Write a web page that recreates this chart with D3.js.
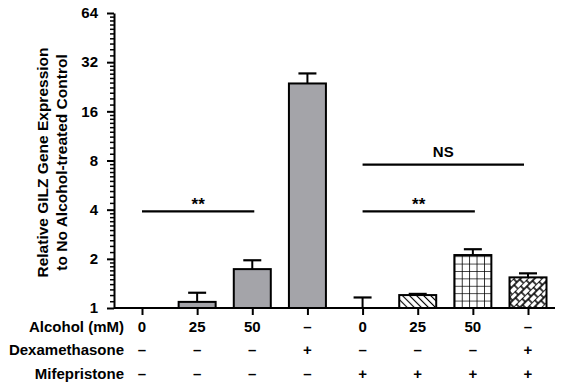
<!DOCTYPE html>
<html>
<head>
<meta charset="utf-8">
<script src="https://cdn.jsdelivr.net/npm/d3@7"></script>
<style>
  body { margin: 0; background: #fff; }
  text { font-family: "Liberation Sans", Arial, sans-serif; font-weight: bold; }
</style>
</head>
<body>
<svg id="chart" width="561" height="387"></svg>
<script>
// data
const groups = ["g1", "g2", "g3", "g4", "g5", "g6", "g7", "g8"];
const means = [1, 1.09, 1.73, 23.7, 1, 1.2, 2.11, 1.54];
const errTops = [1, 1.24, 1.96, 27.3, 1.16, 1.22, 2.29, 1.63];
const fills = ["gray", "gray", "gray", "gray", "none", "hatch", "grid", "brick"];
const yTicks = [1, 2, 4, 8, 16, 32, 64];
const alcohol = ["0", "25", "50", "–", "0", "25", "50", "–"];
const dexa = ["–", "–", "–", "+", "–", "–", "–", "+"];
const mife = ["–", "–", "–", "–", "+", "+", "+", "+"];
const sigs = [
  { from: 0, to: 2, label: "**", val: 3.9 },
  { from: 4, to: 6, label: "**", val: 3.9 },
  { from: 4, to: 7, label: "NS", val: 7.55 },
];

const svg = d3.select("#chart");
const left = 114, bottom = 308;

const y = d3.scaleLog().base(2).domain([1, 64]).range([bottom, 13]);
const x = d3.scalePoint().domain(groups).range([142, 528]);
const barW = 37;

// patterns
const defs = svg.append("defs");
const hatch = defs.append("pattern").attr("id", "hatch")
  .attr("patternUnits", "userSpaceOnUse").attr("width", 5).attr("height", 5)
  .attr("patternTransform", "rotate(-45)");
hatch.append("rect").attr("width", 5).attr("height", 5).attr("fill", "#fff");
hatch.append("line").attr("x1", 0).attr("y1", 0).attr("x2", 0).attr("y2", 5)
  .attr("stroke", "#000").attr("stroke-width", 2.2);

const grid = defs.append("pattern").attr("id", "grid")
  .attr("patternUnits", "userSpaceOnUse").attr("width", 7.4).attr("height", 7.4)
  .attr("x", x("g7") - barW / 2).attr("y", bottom);
grid.append("rect").attr("width", 7.4).attr("height", 7.4).attr("fill", "#fff");
grid.append("path").attr("d", "M0,0H7.4M0,0V7.4").attr("stroke", "#000").attr("stroke-width", 1.6);

// brick-like diagonal: long "/" lines with staggered short cross steps
const brick = defs.append("pattern").attr("id", "brick")
  .attr("patternUnits", "userSpaceOnUse").attr("width", 10).attr("height", 8)
  .attr("patternTransform", "rotate(45)");
brick.append("rect").attr("width", 10).attr("height", 8).attr("fill", "#fff");
brick.append("path").attr("d", "M0,0V8M5,0V8M0,2H5M5,6H10")
  .attr("stroke", "#000").attr("stroke-width", 1.6);

const fillOf = (f) => f === "gray" ? "#a4a4a9" : f === "none" ? "none" : `url(#${f})`;

// y axis with minor ticks
const minor = [];
for (let p = 0; p < 6; p++) {
  for (let k = 1; k < 10; k++) minor.push(Math.pow(2, p) * (1 + k / 10));
}
svg.append("g").attr("transform", `translate(${left},0)`)
  .call(d3.axisLeft(y).tickValues(minor).tickSize(4).tickFormat(""))
  .call((g) => g.select(".domain").remove())
  .call((g) => g.selectAll(".tick line").attr("stroke-width", 1.5));

svg.append("g").attr("transform", `translate(${left},0)`)
  .call(d3.axisLeft(y).tickValues(yTicks).tickSize(7).tickSizeOuter(0).tickPadding(9).tickFormat(d3.format("d")))
  .call((g) => g.select(".domain").attr("stroke-width", 2))
  .call((g) => g.selectAll(".tick line").attr("stroke-width", 2))
  .call((g) => g.selectAll(".tick text").attr("font-size", 15).attr("fill", "#000"));

// x axis
svg.append("g").attr("transform", `translate(0,${bottom})`)
  .call(d3.axisBottom(x).tickSize(7).tickSizeOuter(0).tickFormat(""))
  .call((g) => g.select(".domain").attr("d", `M${left},0H555`).attr("stroke-width", 2))
  .call((g) => g.selectAll(".tick line").attr("stroke-width", 2));

// y title
const title = svg.append("text")
  .attr("transform", `translate(48,${(bottom + 13) / 2 + 2}) rotate(-90)`)
  .attr("text-anchor", "middle").attr("font-size", 15.5).attr("fill", "#000");
title.append("tspan").attr("x", 0).text("Relative GILZ Gene Expression");
title.append("tspan").attr("x", 0).attr("dy", 19).text("to No Alcohol-treated Control");

// bars
const bars = svg.append("g");
groups.forEach((g, i) => {
  if (means[i] > 1) {
    bars.append("rect")
      .attr("x", x(g) - barW / 2).attr("y", y(means[i]))
      .attr("width", barW).attr("height", bottom - y(means[i]))
      .attr("fill", fillOf(fills[i])).attr("stroke", "#000").attr("stroke-width", 2);
  }
  if (errTops[i] > means[i]) {
    bars.append("line").attr("x1", x(g)).attr("x2", x(g))
      .attr("y1", y(means[i])).attr("y2", y(errTops[i]))
      .attr("stroke", "#000").attr("stroke-width", 2);
    bars.append("line").attr("x1", x(g) - 9).attr("x2", x(g) + 9)
      .attr("y1", y(errTops[i])).attr("y2", y(errTops[i]))
      .attr("stroke", "#000").attr("stroke-width", 2.2);
  }
});

// significance lines
sigs.forEach((s) => {
  const x1 = x(groups[s.from]), x2 = s.label === "NS" ? x(groups[s.to]) - 4 : x(groups[s.to]) + 2;
  svg.append("line").attr("x1", x1).attr("x2", x2)
    .attr("y1", y(s.val)).attr("y2", y(s.val))
    .attr("stroke", "#000").attr("stroke-width", 2.2);
  svg.append("text").attr("x", (x1 + x2) / 2).attr("y", y(s.val) - (s.label === "NS" ? 8 : 1))
    .attr("text-anchor", "middle").attr("font-size", s.label === "NS" ? 15 : 17).text(s.label);
});

// treatment table
const rows = [
  { name: "Alcohol (mM)", vals: alcohol, y: 327 },
  { name: "Dexamethasone", vals: dexa, y: 350 },
  { name: "Mifepristone", vals: mife, y: 374 },
];
rows.forEach((r) => {
  svg.append("text").attr("x", 124).attr("y", r.y).attr("dy", "0.35em")
    .attr("text-anchor", "end").attr("font-size", 15).text(r.name);
  svg.append("g").selectAll("text").data(r.vals).join("text")
    .attr("x", (d, i) => x(groups[i])).attr("y", r.y).attr("dy", "0.35em")
    .attr("text-anchor", "middle").attr("font-size", 15).text((d) => d);
});
</script>
</body>
</html>
